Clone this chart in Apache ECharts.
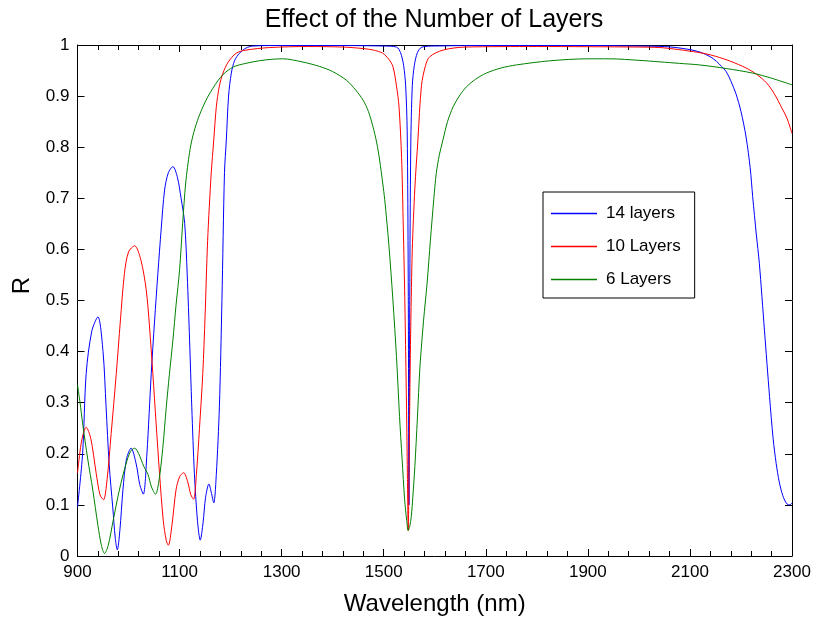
<!DOCTYPE html>
<html>
<head>
<meta charset="utf-8">
<script src="https://cdn.jsdelivr.net/npm/echarts@6/dist/echarts.min.js"></script>
<style>html,body{margin:0;padding:0;background:#fff}#c{width:815px;height:618px}</style>
</head>
<body>
<div id="c"></div>
<script>
var X_MIN = 900, X_MAX = 2300;
var xTickLabels = [900, 1100, 1300, 1500, 1700, 1900, 2100, 2300];
var yTickLabels = ['0','0.1','0.2','0.3','0.4','0.5','0.6','0.7','0.8','0.9','1'];
var seriesNames = ['14 layers', '10 Layers', '6 Layers'];

var wl14 = [900,910,917,928,940,950,956,962,969,974,978,983,989,996,1005,1015,1022,1029,1036,1044.5,1051,1057.5,1064,1070.6,1078,1087,1096,1103,1110,1115,1119.6,1124,1129,1135,1140.5,1146,1151,1157.5,1162,1167,1172,1178,1183,1188,1191.6,1196,1201.4,1208,1217.6,1230,1244,1300,1400,1500,1525,1533,1539,1543,1546,1548,1549.5,1551,1553,1556,1560,1566,1575,1600,1700,1900,2000,2050,2073,2100,2120,2140,2152,2162,2171,2180,2190,2200,2210,2218,2223,2230,2236,2246,2256,2263,2269,2275,2282,2290,2296,2300];
var r14 = [0.096,0.2,0.357,0.44,0.468,0.40,0.292,0.18,0.096,0.035,0.012,0.05,0.129,0.19,0.211,0.18,0.14,0.121,0.2,0.357,0.46,0.553,0.64,0.716,0.75,0.762,0.74,0.70,0.651,0.55,0.423,0.29,0.162,0.07,0.031,0.065,0.115,0.141,0.125,0.104,0.16,0.292,0.50,0.75,0.814,0.9,0.945,0.97,0.984,0.994,0.998,0.999,0.999,0.998,0.996,0.985,0.96,0.92,0.83,0.55,0.1,0.5,0.8,0.92,0.96,0.985,0.996,0.998,0.999,0.999,0.998,0.997,0.995,0.991,0.986,0.977,0.968,0.958,0.948,0.93,0.905,0.87,0.82,0.76,0.703,0.63,0.573,0.442,0.312,0.23,0.181,0.145,0.118,0.102,0.1,0.104];

var wl10 = [900,908,917,926,936.6,944,951,958,966,976,984,992,1000,1012,1024,1034.6,1041,1047.6,1054,1060.7,1068,1074,1078,1085,1093,1100,1108,1116,1122,1127.5,1133,1139,1145.5,1150,1155,1162,1167,1172,1178,1185,1195,1211,1230,1276,1350,1420,1460,1480,1498,1510,1518,1525,1530,1535,1538,1541,1543,1545,1546.5,1548,1549.5,1551,1553,1556,1561,1567,1574,1582,1590,1616,1660,1800,2000,2041,2070,2100,2130,2150,2180,2210,2230,2250,2265,2280,2290,2300];
var r10 = [0.162,0.225,0.252,0.23,0.162,0.12,0.110,0.15,0.24,0.357,0.46,0.553,0.595,0.607,0.58,0.521,0.45,0.357,0.26,0.162,0.07,0.03,0.021,0.06,0.129,0.155,0.163,0.145,0.12,0.111,0.16,0.25,0.357,0.47,0.618,0.749,0.814,0.879,0.92,0.945,0.966,0.984,0.99,0.995,0.997,0.996,0.993,0.99,0.984,0.972,0.958,0.92,0.879,0.78,0.66,0.52,0.4,0.27,0.15,0.05,0.15,0.3,0.45,0.6,0.72,0.814,0.921,0.96,0.977,0.99,0.996,0.997,0.996,0.995,0.992,0.988,0.983,0.978,0.968,0.955,0.943,0.926,0.905,0.877,0.857,0.827];

var wl6 = [900,905,910,920,930,940,947,953,960,970,982,995,1004,1012,1020,1030,1038,1045,1053,1060,1067,1074,1080,1087,1093,1100,1106,1112,1119.6,1126,1135,1145.7,1155,1165,1175,1185,1197,1210,1244,1270,1302,1340,1374.5,1400,1427,1445,1459.6,1470,1479,1486,1492,1498,1502,1510,1518,1525,1531,1536,1541,1545,1548,1551,1554,1557,1561,1566,1571,1578,1585,1591.5,1598,1603,1609,1616,1625,1636,1648,1662,1680,1701,1730,1760,1825,1900,1943,2000,2041,2080,2119,2171,2223,2260,2300];
var r6 = [0.335,0.30,0.26,0.19,0.129,0.06,0.02,0.005,0.02,0.07,0.129,0.18,0.205,0.211,0.2,0.175,0.16,0.135,0.121,0.15,0.21,0.292,0.355,0.423,0.49,0.56,0.65,0.73,0.79,0.822,0.852,0.879,0.898,0.915,0.93,0.942,0.952,0.959,0.967,0.971,0.973,0.967,0.958,0.948,0.931,0.912,0.892,0.87,0.84,0.81,0.775,0.73,0.697,0.61,0.501,0.39,0.273,0.19,0.11,0.07,0.05,0.058,0.077,0.115,0.175,0.27,0.37,0.46,0.534,0.618,0.697,0.749,0.785,0.814,0.85,0.879,0.9,0.918,0.933,0.945,0.955,0.961,0.969,0.973,0.973,0.97,0.967,0.964,0.961,0.954,0.945,0.935,0.922];

var colors = ['#0000ff', '#ff0000', '#008000'];
var FONT = 'Liberation Sans, Arial, Helvetica, sans-serif';

function pairs(wl, r) {
  return wl.map(function (w, i) { return [w - X_MIN, r[i]]; });
}
var allWl = [wl14, wl10, wl6];
var allR = [r14, r10, r6];

var series = seriesNames.map(function (name, i) {
  return {
    name: name,
    type: 'line',
    xAxisIndex: 0, yAxisIndex: 0,
    data: pairs(allWl[i], allR[i]),
    showSymbol: false,
    symbol: 'none',
    smooth: 0.3,
    clip: true,
    lineStyle: { color: colors[i], width: 1 },
    itemStyle: { color: colors[i] },
    animation: false
  };
});

function xLabel(v) {
  var w = Math.round(v + X_MIN);
  return xTickLabels.indexOf(w) >= 0 ? String(w) : '';
}
function yLabel(v) {
  var idx = Math.round(v * 10);
  return yTickLabels[idx] !== undefined ? yTickLabels[idx] : '';
}

var axisLineStyle = { color: '#000', width: 1 };
function xAx(pos, withLabels) {
  var a = {
    type: 'value', min: 0, max: X_MAX - X_MIN, interval: 200,
    position: pos,
    axisLine: { show: true, onZero: false, lineStyle: axisLineStyle },
    axisTick: { show: true, inside: true, length: 7, lineStyle: axisLineStyle },
    minorTick: { show: true, splitNumber: 5, length: 5, lineStyle: { color: '#000' } },
    axisLabel: { show: withLabels, formatter: xLabel, fontFamily: FONT, fontSize: 17, color: '#000', margin: 8 },
    splitLine: { show: false }
  };
  if (withLabels) {
    a.name = 'Wavelength (nm)';
    a.nameLocation = 'middle';
    a.nameGap = 36;
    a.nameTextStyle = { fontFamily: FONT, fontSize: 24, color: '#000' };
  }
  return a;
}
function yAx(pos, withLabels) {
  var a = {
    type: 'value', min: 0, max: 1, interval: 0.1,
    position: pos,
    axisLine: { show: true, onZero: false, lineStyle: axisLineStyle },
    axisTick: { show: true, inside: true, length: 7, lineStyle: axisLineStyle },
    axisLabel: { show: withLabels, formatter: yLabel, fontFamily: FONT, fontSize: 17, color: '#000', margin: 8 },
    splitLine: { show: false }
  };
  if (withLabels) {
    a.name = 'R';
    a.nameLocation = 'middle';
    a.nameRotate = 90;
    a.nameGap = 43;
    a.nameTextStyle = { fontFamily: FONT, fontSize: 24, color: '#000', padding: [0, 0, 0, 30] };
  }
  return a;
}

var chart = echarts.init(document.getElementById('c'), null, { renderer: 'canvas' });
chart.setOption({
  animation: false,
  backgroundColor: '#fff',
  title: {
    text: 'Effect of the Number of Layers',
    left: 434, top: 8, textAlign: 'center', padding: 0,
    textStyle: { fontFamily: FONT, fontSize: 25, fontWeight: 'normal', color: '#000' }
  },
  legend: {
    orient: 'vertical',
    left: 543, top: 192,
    padding: [13, 14, 10, 8],
    itemGap: 16,
    itemWidth: 46, itemHeight: 1.5,
    icon: 'rect',
    backgroundColor: '#fff',
    borderColor: '#000', borderWidth: 1, borderRadius: 0,
    textStyle: { fontFamily: FONT, fontSize: 17, color: '#000', padding: [0, 0, 0, 4] },
    data: seriesNames
  },
  grid: { left: 77.5, right: 23, top: 45, bottom: 62, containLabel: false, outerBoundsMode: 'none' },
  xAxis: [xAx('bottom', true), xAx('top', false)],
  yAxis: [yAx('left', true), yAx('right', false)],
  series: series
});
</script>
</body>
</html>
